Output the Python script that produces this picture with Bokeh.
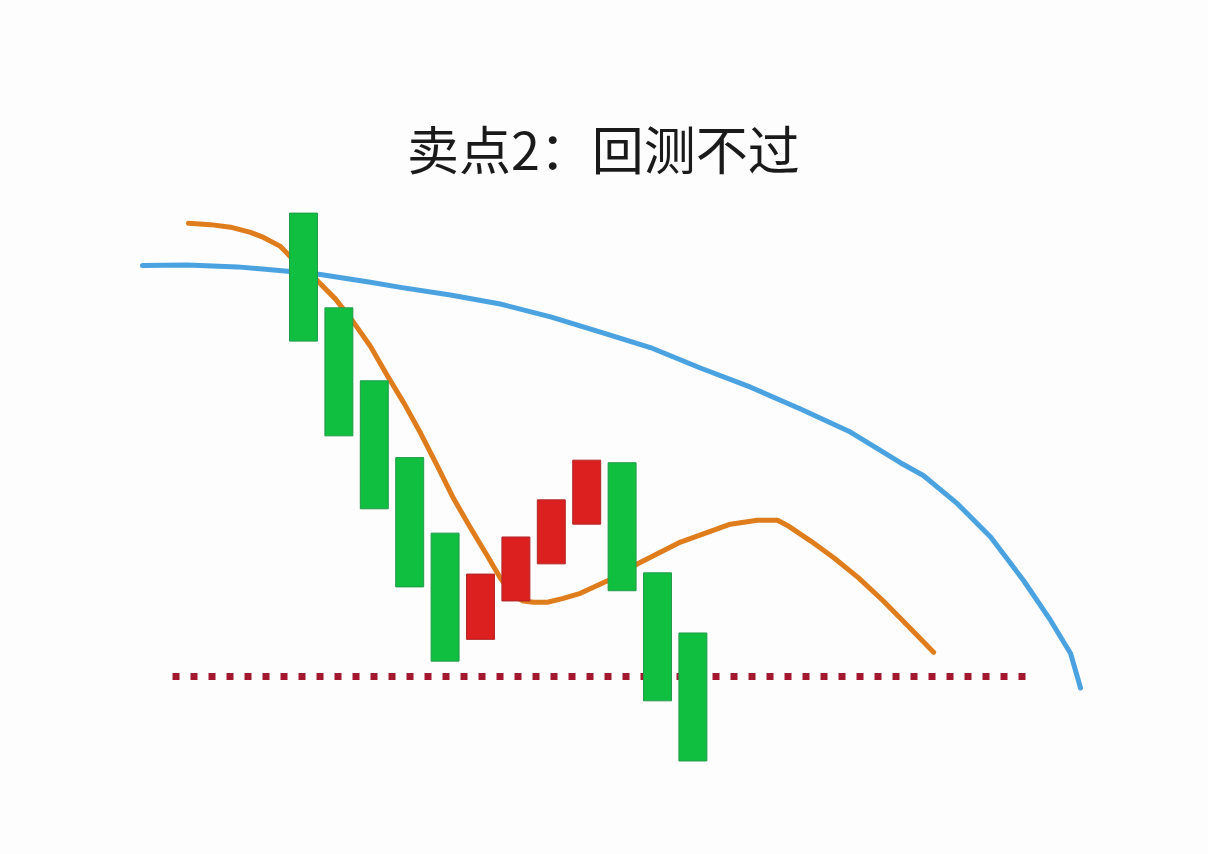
from bokeh.plotting import figure
from bokeh.models import Range1d, Label
from bokeh.embed import file_html
from bokeh.resources import INLINE

# candles (index, open, close)
candle_x = [0, 1, 2, 3, 4, 5, 6, 7, 8, 9, 10, 11]
candle_open = [56.2, 48.8, 43.1, 37.1, 31.2, 22.9, 25.9, 28.8, 31.9, 36.7, 28.1, 23.4]
candle_close = [46.2, 38.8, 33.1, 27.0, 21.2, 28.0, 30.9, 33.8, 36.9, 26.7, 18.1, 13.4]

# short moving average (orange)
ma_short_x = [-3.25, -2.63, -2.06, -1.50, -1.13, -0.65, -0.37, 0.40, 0.90, 1.38, 1.89,
              2.37, 2.85, 3.31, 3.79, 4.24, 4.72, 5.20, 5.56, 5.93, 6.21, 6.50, 6.89,
              7.34, 7.82, 8.76, 9.44, 10.65, 12.06, 12.82, 13.39, 13.67, 14.32, 14.97,
              15.68, 16.38, 17.09, 17.80]
ma_short_y = [55.4, 55.3, 55.1, 54.7, 54.3, 53.6, 52.8, 50.9, 49.5, 47.8, 45.8,
              43.5, 41.3, 39.0, 36.4, 33.9, 31.6, 29.4, 27.7, 26.3, 25.9, 25.8, 25.8,
              26.1, 26.5, 27.7, 28.8, 30.5, 31.9, 32.2, 32.2, 31.8, 30.6, 29.3,
              27.7, 25.9, 23.9, 21.9]

# long moving average (blue)
ma_long_x = [-4.55, -3.28, -1.86, -0.45, 0.48, 1.89, 2.74, 4.15, 5.56, 6.98, 8.39,
             9.80, 11.21, 12.63, 14.04, 15.45, 16.86, 17.51, 18.47, 19.41, 20.34,
             21.10, 21.67, 21.95]
ma_long_y = [52.1, 52.15, 52.0, 51.65, 51.4, 50.8, 50.4, 49.8, 49.1, 48.1, 46.9,
             45.7, 44.1, 42.6, 40.9, 39.1, 36.7, 35.7, 33.5, 30.9, 27.5,
             24.4, 21.8, 19.1]

# support level (dotted)
support_x = [-3.70, 20.54]
support_y = [20.0, 20.0]

title_text = "卖点2：回测不过"

p = figure(width=1208, height=854, output_backend="svg", toolbar_location=None,
           x_range=Range1d(-8.559, 25.565), y_range=Range1d(6.094, 72.81),
           min_border=0)
p.axis.visible = False
p.grid.visible = False
p.outline_line_color = None
p.background_fill_color = "#fdfdfd"
p.border_fill_color = "#fdfdfd"

p.line(support_x, support_y, line_color="#a3182e", line_width=7,
       line_dash="7 11", line_cap="butt")
p.line(ma_long_x, ma_long_y, line_color="#4aa3e0", line_width=5,
       line_join="round", line_cap="round")
p.line(ma_short_x, ma_short_y, line_color="#df7c1c", line_width=5,
       line_join="round", line_cap="round")

tops = [max(o, c) for o, c in zip(candle_open, candle_close)]
bottoms = [min(o, c) for o, c in zip(candle_open, candle_close)]
fills = ["#dc1f1f" if c > o else "#10bf40" for o, c in zip(candle_open, candle_close)]
edges = ["#b0282a" if c > o else "#229a4c" for o, c in zip(candle_open, candle_close)]

p.vbar(x=candle_x, top=tops, bottom=bottoms, width=0.79,
       fill_color=fills, line_color=edges, line_width=1)

p.add_layout(Label(x=8.47, y=61.35, text=title_text, text_align="center",
                   text_baseline="middle", text_font="Noto Sans CJK SC",
                   text_font_size="52px", text_color="#1a1a1a"))

open("out.html", "w").write(file_html(p, INLINE))
